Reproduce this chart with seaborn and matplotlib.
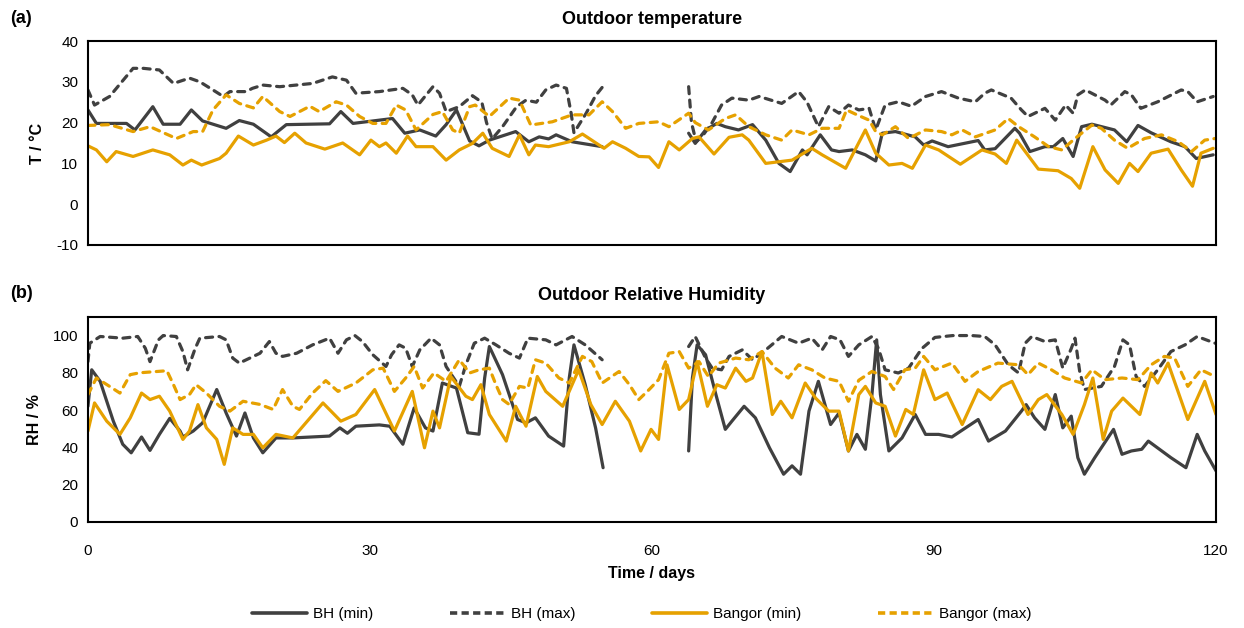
import numpy as np
import pandas as pd
import matplotlib
matplotlib.use("Agg")
import matplotlib.pyplot as plt
import seaborn as sns
from matplotlib.lines import Line2D

sns.set_theme(style="white")
plt.rcParams['font.family'] = ['Liberation Sans', 'DejaVu Sans']
plt.rcParams['axes.unicode_minus'] = False
plt.rcParams['text.color'] = 'black'
plt.rcParams['axes.labelcolor'] = 'black'

# ---------------- Outdoor temperature (deg C) ----------------
# np.nan marks the break in the BH record
bh_max_t_day = [0, 0.7, 2.3, 4.8, 5.9, 7.6, 9.1, 10.8, 11.9, 13.3, 14.4, 15.1, 16.8, 17.5, 18.6, 20.4,
                23.9, 26, 27.5, 28.5, 31, 33.5, 34.5, 35.1, 36.7, 37.4, 38.1, 39.5, 40.9, 41.9, 42.4,
                43, 44.1, 45.6, 46.6, 47.7, 48.7, 49.8, 50.9, 51.4, 51.7, 53, 54, 54.9, 59,
                63.9, 64.2, 64.7, 65.3, 66.4, 67.4, 68.5, 70.3, 71.4, 73.8, 75.6, 76.5, 77.7, 78.8,
                79.9, 80.9, 82, 83.1, 83.8, 84.8, 86.2, 87.6, 89.1, 90.8, 92.6, 94.4, 95.4, 96.1,
                98.2, 99.3, 100, 101.8, 102.9, 104, 104.8, 105.3, 106.1, 108.2, 108.8, 110.3, 111,
                112, 113.8, 116.3, 117, 118, 119.7]
bh_max_t = [28, 24.3, 26.4, 33.3, 33.3, 32.9, 29.6, 30.9, 30, 28, 26.4, 27.6, 27.6, 28.4, 29.2, 28.8,
            29.6, 31.2, 30.4, 27.2, 27.6, 28.4, 26.8, 24.3, 28.8, 27.2, 22.7, 23.9, 26.6, 25, 20,
            16, 19, 23.9, 25.5, 25, 28, 29.2, 28.4, 22.3, 17.5, 22.3, 26.6, 29.2, np.nan,
            28.8, 20, 15.3, 16.5, 20, 24.3, 26, 25.5, 26.4, 24.7, 27.6, 25, 19, 23.9,
            22.3, 24.3, 23.1, 23.5, 18.2, 24.3, 25.1, 24, 26.4, 27.6, 26, 25.1, 27.2, 28,
            26, 23.1, 21.5, 23.5, 20.6, 24.3, 22.3, 26.8, 28, 25.5, 24.3, 27.6, 26.8,
            23.5, 25.1, 28, 27.6, 25.1, 26.4]

bh_min_t_day = [0, 0.9, 4.1, 5, 6.9, 8, 9.8, 11, 12.2, 14.7, 16.1, 17.6, 19.5, 20.4, 21.1, 25.7,
                26.9, 28.2, 31, 32.4, 33.7, 35.3, 37, 38.1, 39.2, 40.6, 41.6, 42.7, 45.5, 46.9, 48,
                49, 49.8, 51.5, 54.7, 59,
                63.9, 64.6, 65.7, 66.9, 67.8, 69.2, 70.7, 72.1, 73.5, 74.7, 76, 76.5, 77.9, 79.1,
                79.9, 81.3, 82.7, 83.8, 84.5, 85.9, 88, 88.9, 89.8, 91.5, 94.7, 95.4, 96.5, 98.6,
                99.1, 100.2, 101.8, 102.7, 103.7, 104.8, 105.7, 106.8, 109.2, 110.5, 111.7, 113.1,
                115.2, 116.7, 117.9, 119.7]
bh_min_t = [23.1, 19.8, 19.8, 18.2, 23.9, 19.6, 19.6, 23.1, 20.4, 18.6, 20.5, 19.6, 16.5, 18.2, 19.5, 19.7,
            22.7, 19.8, 20.6, 21, 17.4, 18.2, 16.7, 19.5, 23.1, 15.5, 14.3, 15.7, 17.8, 15.3, 16.5,
            16, 17, 15.3, 14.1, np.nan,
            17.4, 14.9, 18.2, 19.8, 19, 18.2, 19.5, 15.7, 10, 8, 13.3, 12.1, 17, 13.3,
            12.9, 13.3, 12.1, 10.6, 17.4, 17.8, 16.5, 14.5, 15.5, 14.1, 15.6, 13.3, 13.6, 18.6,
            17.4, 12.9, 14.1, 14.1, 16.1, 11.7, 19, 19.6, 18.2, 15.3, 19.3, 17.5,
            15.3, 14.1, 11.2, 12.1]

bangor_max_t_day = [0, 2.3, 4.8, 6.6, 9.4, 11.2, 12.2, 13.3, 14.7, 16.1, 17.6, 18.6, 20.4, 21.5, 23.6,
                    24.6, 26.4, 27.5, 28.9, 30.3, 31.7, 32.8, 33.8, 34.9, 36.7, 37.7, 38.8, 39.5,
                    40.6, 41.2, 42.7, 44.8, 45.9, 47.1, 49.4, 51.5, 53.3, 54.7, 55.8, 57.2, 58.6,
                    60.7, 61.8, 63.9, 64.6, 66, 67.8, 68.9, 70.3, 72.1, 73.8, 74.9, 76.7, 78.1,
                    79.9, 80.7, 82, 83.1, 83.8, 84.5, 85.9, 87.3, 89.1, 90.8, 91.9, 93, 94.4, 96.5,
                    97.9, 99, 100.7, 102.2, 103.6, 105, 106.8, 107.8, 109.2, 110.6, 112.4, 114.2,
                    116, 117.4, 118.8, 119.9]
bangor_max_t = [19.3, 19.5, 17.8, 19, 16.1, 17.8, 17.8, 23.1, 26.8, 24.7, 23.6, 26.4, 22.7, 21.5, 24,
                22.7, 25.1, 24.3, 21.5, 19.8, 19.8, 24.3, 23.1, 18.2, 22, 22.7, 18.2, 17.4,
                23.9, 24.3, 21.5, 26, 25.5, 19.4, 20.2, 21.9, 21.9, 25.1, 22.7, 18.6, 19.8,
                20.2, 19, 22.3, 20, 18.2, 21, 21.9, 19, 17, 15.7, 18.2, 17, 18.6,
                18.6, 23.1, 21.7, 20.6, 17.8, 17, 19, 16.1, 18.2, 17.8, 17, 18.2, 16.5, 18.2,
                21, 19, 16.5, 14.1, 13.3, 16.1, 19.4, 18.6, 15.7, 13.7, 16.1, 17,
                15.3, 12.9, 15.7, 16.1]

bangor_min_t_day = [0, 0.9, 2, 3, 4.8, 6.9, 8.7, 10.1, 11, 12.1, 14, 14.7, 16, 17.6, 19, 20, 20.9, 22,
                    23.2, 25.2, 27.1, 28.9, 30.1, 31, 31.7, 32.8, 34, 34.9, 36.7, 38.1, 39.5, 40.9,
                    42, 43, 44.8, 45.9, 46.9, 47.6, 49, 51.2, 52.6, 54.9, 55.8, 57.2, 58.6, 59.7,
                    60.7, 61.8, 62.9, 64.3, 65, 66.6, 68.2, 69.6, 70.3, 72.1, 74.9, 77, 78.1, 80.6,
                    81.6, 82.7, 83.8, 85.2, 86.6, 87.7, 89.1, 90.5, 92.8, 95.1, 96.5, 97.7, 98.8,
                    101.1, 103.2, 104.6, 105.5, 106.9, 108.2, 109.6, 110.8, 111.7, 113.1, 114.9,
                    116.3, 117.5, 118.4, 119.7]
bangor_min_t = [14.3, 13.3, 10.4, 12.9, 11.7, 13.3, 12.1, 9.6, 10.8, 9.6, 11.2, 12.5, 16.7, 14.5, 15.7,
                16.7, 15.1, 17.4, 15, 13.5, 15, 12.1, 15.7, 14.1, 15, 12.5, 16.7, 14.1, 14.1, 10.8,
                13.3, 14.9, 17.4, 13.7, 11.7, 17, 12.1, 14.5, 14.1, 15.3, 17.2, 13.7, 15.3, 13.7,
                11.7, 11.6, 9, 15.3, 13.3, 16.1, 16.5, 12.3, 16.4, 17, 15.7, 10, 10.8, 13.7, 12.1,
                8.8, 13.3, 18.2, 12.5, 9.6, 10, 8.8, 14.5, 13.3, 9.8, 13.3, 12.3, 10, 15.7,
                8.6, 8.2, 6.3, 3.9, 14.1, 8.4, 5.1, 10, 8, 12.5, 13.5, 8.4, 4.4, 12.5, 13.7]

# ---------------- Outdoor relative humidity (%) ----------------
bh_max_rh_day = [0, 0.2, 1.3, 3.7, 5.3, 6.1, 6.6, 7.5, 8, 9.4, 10.1, 10.6, 11.4, 11.9, 14, 14.7, 15.4,
                 16.1, 18.3, 19.3, 20, 20.7, 22.2, 23.9, 25.7, 26.6, 27.5, 28.4, 29.2, 30.3, 31.7,
                 32.3, 33.1, 33.8, 34.5, 35.3, 36.5, 37.4, 38.1, 38.8, 39.5, 40.2, 41.1, 42.2, 43.4,
                 44.8, 45.9, 46.8, 48.7, 49.8, 51.5, 52.9, 54.7, 59,
                 63.9, 64.6, 65.7, 66.4, 67.4, 68.2, 69.6, 70.7, 72.1, 73.8, 75.6, 77, 78.1, 79, 80,
                 80.9, 82, 83.4, 84.1, 84.8, 86.2, 87.3, 88.7, 90.1, 92, 94, 95.4, 96.5, 97.9, 99,
                 99.7, 100.4, 101.8, 102.9, 103.7, 104.6, 105, 105.5, 106, 107.8, 109.2, 110.1,
                 110.8, 111.5, 112.4, 113.8, 115.2, 116.7, 118, 119.9]
bh_max_rh = [86, 95.9, 99.5, 98.6, 99.5, 93.2, 86, 97.7, 100, 99.5, 91.4, 81.6, 93, 98.6, 99.5, 97.7, 87.9,
             85.2, 90.5, 96.8, 90.5, 88.8, 90.5, 95, 98.6, 90.5, 97.7, 100, 96.8, 89.7, 83.4,
             89.7, 95, 93.2, 83.4, 92.3, 98.6, 95, 83.4, 78, 72.7, 84.3, 95.9, 98.6, 95,
             90.5, 87.9, 98.6, 97.7, 95, 99.5, 95, 87, np.nan,
             94.1, 99.5, 87.9, 82.5, 81.6, 88.8, 92.3, 87, 92.3, 99.5, 95.9, 98.6, 92.3, 99.5, 97.7,
             88.8, 95, 99.5, 93, 81.6, 79.9, 82.5, 93, 99, 100, 100, 99.5, 95, 84.3, 79.9,
             95.9, 99.5, 96.8, 97.7, 82.5, 93, 98.6, 80.7, 71, 72.7, 83.4, 97.7,
             95, 78, 72.7, 81.6, 91.4, 95, 99.5, 95.9]

bh_min_rh_day = [0, 0.4, 1.3, 2.7, 3.7, 4.6, 5.7, 6.6, 7.6, 8.7, 9.8, 10.1, 11.2, 12.2, 13.7, 14.7, 15.8,
                 16.7, 17.6, 18.6, 20, 21.8, 25.7, 26.8, 27.6, 28.5, 31, 32.1, 33.5, 34.7, 35.9,
                 36.7, 37.7, 39.2, 40.4, 41.6, 42.2, 42.7, 44.1, 45.7, 46.6, 47.6, 49, 50.6, 51.2,
                 51.7, 52.9, 54, 54.8, 59,
                 63.9, 64.3, 64.8, 65.7, 66.8, 67.8, 68.5, 69.8, 71, 72.5, 74, 74.9, 75.8, 76.7,
                 77.7, 79, 79.9, 80.9, 81.8, 82.7, 83.4, 83.9, 84.3, 85.2, 86.6, 88, 89.1, 90.5,
                 91.9, 94.7, 95.8, 97.6, 99.3, 99.8, 100.7, 101.8, 102.9, 103.7, 104.6, 105.3, 106,
                 107.1, 109.1, 110, 111, 112.1, 112.8, 115.2, 116.8, 118, 118.8, 120]
bh_min_rh = [62, 81.6, 75.4, 54, 41.6, 37, 45.5, 38.3, 46.9, 55.5, 48.7, 45.5, 48.7, 53.1, 71, 58.4, 46,
             58.4, 45, 37, 45, 45, 46, 50.4, 47.5, 51.3, 52, 51.3, 41.6, 61.1, 50.4,
             48.7, 74.5, 71.8, 47.8, 47, 77.2, 94.1, 79, 54.9, 53.1, 55.8, 46, 40.6, 77.2,
             95, 73.6, 50.4, 29, np.nan,
             38, 77.2, 95, 89.7, 68.3, 49.6, 54, 62, 55.8, 39.7, 25.5, 30, 25.5, 59.4,
             75.4, 52.2, 58.4, 38, 46.9, 38.9, 68.3, 97.7, 68.3, 38, 45, 57.6, 46.9, 46.9,
             45.5, 54.9, 43.3, 48.7, 59.4, 62.9, 55.8, 49.6, 68.3, 50.4, 56.7, 34.4, 25.5,
             34.4, 49.6, 36.2, 38, 38.9, 43.3, 34.4, 29, 46.9, 38, 27.3]

bangor_max_rh_day = [0, 0.9, 2.3, 3.4, 4.5, 5.5, 8.4, 9.1, 9.8, 10.8, 11.5, 12.6, 14, 15.1, 16.5, 18.3,
                     19.7, 20.7, 21.8, 22.5, 23.9, 25.3, 26.6, 28.5, 30.3, 31.4, 32.6, 33.8, 34.7,
                     35.6, 36.8, 38.1, 39.5, 40.6, 41.6, 42.7, 43.4, 44.1, 44.8, 45.9, 46.8, 47.6,
                     48.7, 50.1, 51.2, 52.6, 53.6, 54.7, 56.5, 57.6, 58.6, 59.7, 60.7, 61.8, 62.9,
                     63.9, 65, 66, 67.1, 68.9, 70.3, 71.7, 73.1, 74.5, 75.6, 77, 78.4, 79.9, 80.9,
                     82, 83.4, 84.8, 85.7, 86.9, 88, 88.9, 90.1, 91.9, 93.3, 94.7, 96.8, 99, 100,
                     101.1, 102.5, 103.9, 105.7, 106.8, 108.2, 110, 111.7, 113.1, 114.5, 115.6, 117,
                     118.4, 119.9]
bangor_max_rh = [68.3, 77.2, 72.7, 69.1, 79, 80, 81.1, 73.6, 65.6, 68.3, 73.6, 69.1, 62, 59.4, 64.7, 63,
                 60.3, 71, 62, 60.3, 69.1, 75.8, 70, 74.5, 81.6, 82.5, 70, 77.2, 83.4,
                 71.8, 79.9, 75.4, 87, 79.9, 81.6, 82.5, 73.6, 65.6, 63, 72.7, 71.8, 87,
                 85.2, 77.2, 74.5, 88.8, 86, 74.5, 80.7, 73.6, 65.6, 71, 76.3, 90.5, 91.4,
                 82.5, 86, 78, 85.2, 87.9, 87, 91.4, 82.5, 77.2, 84.3, 81.6, 77.2, 75.4, 64.7,
                 76, 80.7, 78, 71, 81.6, 82.5, 88.8, 81.6, 85.2, 75.4, 80.7, 85.2, 84.3, 79,
                 85.2, 81.6, 77.2, 74.5, 81.6, 76.3, 77.2, 76.3, 84.3, 88.8, 87.9, 72.7,
                 81.6, 78]

bangor_min_rh_day = [0, 0.7, 2, 3.4, 4.5, 5.7, 6.6, 7.6, 8.7, 10.1, 10.8, 11.7, 12.6, 13.7, 14.5, 15.4,
                     16.5, 17.6, 18.6, 20, 21.8, 25, 26.9, 28.5, 30.5, 32.6, 34.5, 35.8, 36.7, 37.4,
                     38.6, 40.2, 40.9, 41.8, 42.7, 44.5, 45.5, 46.6, 47.8, 48.7, 50.5, 52.2, 53.5,
                     54.7, 56.1, 57.6, 58.8, 59.9, 60.7, 61.6, 62.9, 63.9, 64.8, 65.9, 66.9, 67.8,
                     68.9, 70, 70.7, 71.7, 72.8, 73.7, 74.9, 76.3, 77.4, 78.8, 79.9, 80.9, 82, 82.7,
                     83.8, 84.8, 85.9, 87, 87.8, 88.9, 90.1, 91.4, 93, 94.7, 96, 97.2, 98.3, 100,
                     101.1, 102, 103.6, 104.8, 106, 106.9, 108, 108.9, 110.1, 111.9, 113.1, 113.8,
                     114.9, 117, 118.8, 120]
bangor_min_rh = [48.7, 63.8, 54, 46.9, 55.8, 69.1, 65.6, 67.4, 59.4, 44.2, 48.7, 62.9, 50.4, 44.2, 30.8,
                 50.4, 46.9, 46.9, 39.7, 46.9, 45, 63.8, 54, 57.6, 71, 48.7, 70, 39.7, 59.4, 50.4,
                 78, 67.4, 65.6, 73.6, 57.6, 43.3, 62, 51.3, 78, 70, 62, 81.6, 62.9,
                 52.2, 64.7, 54, 38, 49.6, 44.2, 84.3, 60.3, 65.6, 86, 62, 73.6, 71.8,
                 82.5, 75.4, 77.2, 91.4, 57.6, 64.7, 55.8, 74.5, 66.4, 59.4, 59.4, 38, 68.3, 72.7,
                 63.8, 62, 46, 60.3, 57.6, 81.6, 65.6, 69.1, 52.2, 70.9, 65.6, 72.7, 75.4, 57.6,
                 65.6, 68.3, 57.6, 46.9, 62.9, 77.2, 44.2, 59.4, 66.4, 57.6, 79.9, 74.5,
                 85.2, 54.9, 75.4, 57.6]

series_labels = ["BH (min)", "BH (max)", "Bangor (min)", "Bangor (max)"]
dark = "#404040"
gold = "#E6A100"
line_color = [dark, dark, gold, gold]
line_dash = [None, (2.2, 2.0), None, (2.2, 2.0)]
LW = 2.3


def to_frame(days, values):
    """Long table of one series; a NaN value starts a new line segment."""
    df = pd.DataFrame({"day": days, "value": values})
    df["segment"] = df["value"].isna().cumsum()
    return df.dropna()


def draw(ax, days, values, color, dash):
    df = to_frame(days, values)
    n_before = len(ax.lines)
    sns.lineplot(data=df, x="day", y="value", units="segment", estimator=None,
                 sort=False, color=color, lw=LW, ax=ax, legend=False)
    for ln in ax.lines[n_before:]:
        ln.set_solid_capstyle("round")
        ln.set_solid_joinstyle("round")
        if dash is not None:
            ln.set_dashes(dash)
            ln.set_dash_capstyle("round")


fig = plt.figure(figsize=(12.44, 6.28), dpi=100)
ax_t = fig.add_axes([0.0707, 0.6099, 0.9068, 0.3248])
ax_h = fig.add_axes([0.0707, 0.1693, 0.9068, 0.3260])

temp_series = [(bh_min_t_day, bh_min_t), (bh_max_t_day, bh_max_t),
               (bangor_min_t_day, bangor_min_t), (bangor_max_t_day, bangor_max_t)]
rh_series = [(bh_min_rh_day, bh_min_rh), (bh_max_rh_day, bh_max_rh),
             (bangor_min_rh_day, bangor_min_rh), (bangor_max_rh_day, bangor_max_rh)]

for (d, v), c, ds in zip(temp_series, line_color, line_dash):
    draw(ax_t, d, v, c, ds)
for (d, v), c, ds in zip(rh_series, line_color, line_dash):
    draw(ax_h, d, v, c, ds)

tick_font = 11
for ax in (ax_t, ax_h):
    ax.set_xlim(0, 120)
    for sp in ax.spines.values():
        sp.set_color("black")
        sp.set_linewidth(1.5)
    ax.tick_params(axis="both", length=0, labelsize=tick_font, colors="black")
    ax.tick_params(axis="y", pad=7)
    ax.tick_params(axis="x", pad=16)
    ax.grid(False)

ax_t.set_ylim(-10, 40)
ax_t.set_yticks([-10, 0, 10, 20, 30, 40])
ax_t.set_xticks([0, 30, 60, 90, 120])
ax_t.set_xticklabels([])
ax_t.set_xlabel("")
ax_t.set_ylabel("T / °C", fontsize=11.5, fontweight="bold", labelpad=8)

ax_h.set_ylim(0, 110)
ax_h.set_yticks([0, 20, 40, 60, 80, 100])
ax_h.set_xticks([0, 30, 60, 90, 120])
ax_h.set_xlabel("Time / days", fontsize=11.5, fontweight="bold", labelpad=6)
ax_h.set_ylabel("RH / %", fontsize=11.5, fontweight="bold", labelpad=8)

ax_t.set_title("Outdoor temperature", fontsize=13, fontweight="bold", pad=12)
ax_h.set_title("Outdoor Relative Humidity", fontsize=13, fontweight="bold", pad=12)
fig.text(0.008, 0.971, "(a)", fontsize=13, fontweight="bold", va="center", ha="left")
fig.text(0.008, 0.533, "(b)", fontsize=13, fontweight="bold", va="center", ha="left")

handles = []
for lab, c, ds in zip(series_labels, line_color, line_dash):
    h = Line2D([], [], color=c, lw=2.6, label=lab)
    if ds is not None:
        h.set_dashes((2.0, 1.2))
    handles.append(h)
fig.legend(handles=handles, loc="center", bbox_to_anchor=(0.516, 0.022), ncol=4, frameon=False,
           fontsize=11, handlelength=3.6, handletextpad=0.4, columnspacing=5.0)

fig.savefig("out.png", dpi=100)
